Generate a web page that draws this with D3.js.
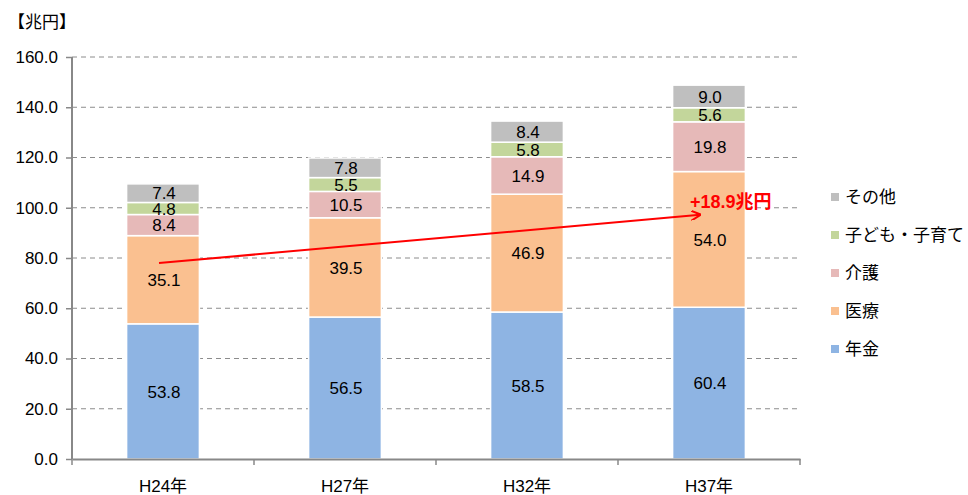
<!DOCTYPE html>
<html><head><meta charset="utf-8">
<script src="https://cdn.jsdelivr.net/npm/d3@7"></script>
<style>body{margin:0;background:#fff}svg{display:block}text{font-family:"Liberation Sans","Noto Sans CJK JP",sans-serif}</style>
</head><body><svg id="c" width="968" height="495"></svg>
<script>
const categories = ["H24年","H27年","H32年","H37年"];
const seriesNames = ["年金","医療","介護","子ども・子育て","その他"];
const pension = [53.8,56.5,58.5,60.4];
const medical = [35.1,39.5,46.9,54.0];
const care = [8.4,10.5,14.9,19.8];
const children = [4.8,5.5,5.8,5.6];
const other = [7.4,7.8,8.4,9.0];
const yTicks = [0,20,40,60,80,100,120,140,160];
const colors = ["#8EB4E3","#FAC090","#E6B9B8","#C3D69B","#BFBFBF"];
const arrowFrom = 78, arrowTo = 97.2, arrowLabel = "+18.9兆円";

const svg = d3.select("#c");
const L=72,R=800,T=57,B=459;
const x = d3.scaleBand().domain(categories).range([L,R]);
const y = d3.scaleLinear().domain([0,160]).range([B,T]);
const rows = categories.map((c,i)=>{const o={cat:c};[pension,medical,care,children,other].forEach((a,j)=>o[seriesNames[j]]=a[i]);return o;});
const stack = d3.stack().keys(seriesNames)(rows);

// grid
svg.append("g").selectAll("line").data(yTicks.filter(d=>d>0)).join("line")
 .attr("x1",L).attr("x2",R).attr("y1",d=>y(d)).attr("y2",d=>y(d))
 .attr("stroke","#8c8c8c").attr("stroke-dasharray","5,4").attr("stroke-width",1);

const bw = x.bandwidth()*0.4;
const g = svg.append("g");
stack.forEach((s,j)=>{
  g.selectAll(null).data(s).join("rect")
   .attr("x",d=>x(d.data.cat)+(x.bandwidth()-bw)/2).attr("width",bw)
   .attr("y",d=>y(d[1])).attr("height",d=>y(d[0])-y(d[1]))
   .attr("fill",colors[j]).attr("stroke","#fff").attr("stroke-width",1.5);
  g.selectAll(null).data(s).join("text")
   .attr("x",d=>x(d.data.cat)+x.bandwidth()/2+1).attr("y",d=>(y(d[0])+y(d[1]))/2)
   .attr("dy","0.36em").attr("text-anchor","middle").attr("font-size",17).attr("fill","#000")
   .text(d=>(d[1]-d[0]).toFixed(1));
});

// axes
const ya = svg.append("g").attr("transform",`translate(${L},0)`).call(d3.axisLeft(y).tickValues(yTicks).tickFormat(d3.format(".1f")).tickSize(6).tickPadding(8));
ya.select(".domain").attr("stroke","#888").attr("stroke-width",2).attr("d",`M0,${T}V${B}`);
ya.selectAll(".tick line").attr("stroke","#888").attr("stroke-width",1.5);
ya.selectAll("text").attr("font-size",17).attr("fill","#000");
const xa = svg.append("g").attr("transform",`translate(0,${B})`).call(d3.axisBottom(x).tickSize(0).tickPadding(21));
xa.select(".domain").attr("stroke","#888").attr("stroke-width",2);
xa.selectAll("text").attr("font-size",17).attr("fill","#000");
svg.append("g").selectAll("line").data(categories.concat(["end"])).join("line")
 .attr("x1",(d,i)=>L+i*x.step()).attr("x2",(d,i)=>L+i*x.step()).attr("y1",B).attr("y2",B+6)
 .attr("stroke","#888").attr("stroke-width",1.5);

svg.append("text").attr("x",8).attr("y",28).attr("font-size",17).attr("fill","#000").text("【兆円】");

// arrow
const ax1 = x(categories[0])+x.bandwidth()/2-4, ax2 = x(categories[3])+x.bandwidth()/2-9;
svg.append("defs").append("marker").attr("id","ah").attr("viewBox","0 0 10 10").attr("refX",9).attr("refY",5)
 .attr("markerWidth",10).attr("markerHeight",10).attr("orient","auto").attr("markerUnits","userSpaceOnUse")
 .append("path").attr("d","M0,0L10,5L0,10").attr("fill","none").attr("stroke","#f00").attr("stroke-width",2);
svg.append("line").attr("x1",ax1).attr("y1",y(arrowFrom)).attr("x2",ax2).attr("y2",y(arrowTo))
 .attr("stroke","#f00").attr("stroke-width",2).attr("marker-end","url(#ah)");
svg.append("text").attr("x",ax2-10).attr("y",y(arrowTo)-7).attr("font-size",18).attr("font-weight","bold").attr("fill","#f00").text(arrowLabel);

// legend
const lg = svg.append("g");
seriesNames.slice().reverse().forEach((n,i)=>{
  const yy = 197+i*38;
  lg.append("rect").attr("x",831).attr("y",yy-4).attr("width",8).attr("height",8).attr("fill",colors[4-i]);
  lg.append("text").attr("x",845).attr("y",yy).attr("dy","0.36em").attr("font-size",17).attr("fill","#000").text(n);
});
</script></body></html>
